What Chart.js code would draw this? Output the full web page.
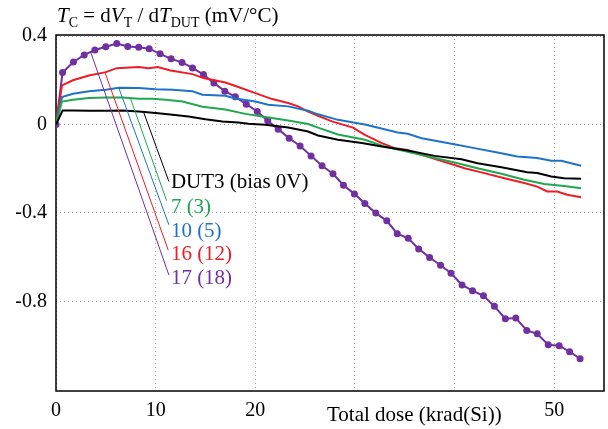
<!DOCTYPE html>
<html>
<head>
<meta charset="utf-8">
<script src="https://cdn.jsdelivr.net/npm/chart.js@4.4.1/dist/chart.umd.min.js"></script>
<style>
  html, body { margin: 0; padding: 0; background: #fff; }
  #wrap { width: 608px; height: 429px; }
</style>
</head>
<body>
<div id="wrap"><canvas id="chart"></canvas></div>
<script>
// total dose (krad(Si)) and Tc (mV/degC)
var doseDUT3 = [0, 0.66, 1.7, 3.3, 5, 6.7, 8.3, 10, 11.7, 13.3, 15, 16.7, 18.3, 19.3, 21, 23.3, 25.3, 26.3, 28.3, 30.7, 32.7, 35.3, 38, 40.7, 42.3, 44.7, 47.3, 48.3, 49.7, 51, 52.7];
var tcDUT3   = [0, 0.063, 0.063, 0.062, 0.062, 0.063, 0.059, 0.052, 0.044, 0.036, 0.024, 0.014, 0.009, 0.003, -0.001, -0.014, -0.032, -0.05, -0.069, -0.084, -0.1, -0.118, -0.142, -0.157, -0.175, -0.193, -0.216, -0.22, -0.235, -0.243, -0.246];

var dose7 = [0, 0.6, 1.7, 3.3, 5, 6.7, 8.3, 9.7, 11, 12.7, 14.7, 17, 19, 20.7, 23.3, 25.3, 26.3, 28.3, 31, 33, 34.3, 37.7, 40, 42.3, 44.7, 47, 49, 51, 52.7];
var tc7   = [0, 0.104, 0.112, 0.12, 0.122, 0.122, 0.116, 0.116, 0.112, 0.104, 0.08, 0.068, 0.048, 0.036, 0.018, 0.002, -0.014, -0.045, -0.069, -0.1, -0.113, -0.148, -0.172, -0.198, -0.223, -0.25, -0.269, -0.278, -0.288];

var dose10 = [0, 0.6, 1.7, 3.3, 5, 6.3, 8.3, 10, 11.7, 13.7, 14.7, 17, 18, 20, 21.3, 23.3, 25.3, 26.3, 28.3, 31, 34.3, 35.3, 36.7, 39.7, 42, 44.3, 46.3, 48.3, 49.7, 50.7, 52.7];
var tc10   = [0, 0.124, 0.139, 0.15, 0.157, 0.166, 0.165, 0.16, 0.157, 0.15, 0.135, 0.13, 0.118, 0.104, 0.089, 0.082, 0.062, 0.046, 0.021, 0, -0.036, -0.042, -0.062, -0.087, -0.107, -0.127, -0.145, -0.152, -0.164, -0.164, -0.187];

var dose16 = [0, 0.6, 1.7, 3.3, 5, 6.1, 8.3, 9.3, 10.2, 11.5, 13.7, 14.8, 17, 18.3, 20, 21.7, 23.3, 24.3, 25.3, 26.3, 27.7, 29.8, 31, 32.7, 34, 35.3, 36.7, 38.3, 40, 41, 43, 45, 47, 48.3, 49.3, 50.3, 51.3, 52.7];
var tc16   = [0, 0.177, 0.2, 0.222, 0.237, 0.255, 0.26, 0.255, 0.26, 0.244, 0.228, 0.21, 0.19, 0.17, 0.142, 0.115, 0.097, 0.082, 0.058, 0.039, 0.014, -0.014, -0.047, -0.084, -0.107, -0.115, -0.137, -0.16, -0.183, -0.198, -0.22, -0.243, -0.265, -0.281, -0.303, -0.303, -0.318, -0.329];

var dose17 = [0, 0.66, 1.75, 2.83, 3.9, 5.0, 6.1, 7.2, 8.3, 9.35, 10.45, 11.55, 12.65, 13.7, 14.8, 15.85, 16.95, 18.0, 19.1, 20.2, 21.25, 22.3, 23.4, 24.5, 25.6, 26.7, 27.8, 28.85, 29.95, 31.0, 32.1, 33.2, 34.25, 35.35, 36.4, 37.5, 38.6, 39.65, 40.75, 41.8, 42.9, 44.0, 45.1, 46.15, 47.25, 48.3, 49.4, 50.5, 51.55, 52.6];
var tc17   = [0, 0.235, 0.283, 0.315, 0.337, 0.352, 0.366, 0.353, 0.35, 0.343, 0.32, 0.297, 0.281, 0.256, 0.226, 0.188, 0.151, 0.125, 0.092, 0.059, 0.017, -0.021, -0.062, -0.097, -0.142, -0.187, -0.223, -0.275, -0.314, -0.357, -0.401, -0.436, -0.494, -0.515, -0.563, -0.602, -0.637, -0.673, -0.726, -0.752, -0.775, -0.823, -0.879, -0.876, -0.932, -0.947, -0.997, -1.001, -1.028, -1.06];

var xTicks = [0, 10, 20, 30, 40, 50];
var xTickLabels = ['0', '10', '20', '', '', '50'];
var yTicks = [0.4, 0, -0.4, -0.8];
var yTickLabels = ['0.4', '0', '-0.4', '-0.8'];

// callout labels: text, colour, where the leader leaves the curve and where it ends
var seriesNames  = ['DUT3 (bias 0V)', '7 (3)', '10 (5)', '16 (12)', '17 (18)'];
var seriesColors = ['#000000', '#1fa84f', '#1e73c8', '#ee1c25', '#7030a0'];
var leaderFrom = [[8.8, 0.055], [7.5, 0.115], [6.33, 0.162], [4.9, 0.237], [3.5, 0.325]];
var leaderTo   = [[11.33, -0.258], [11.1, -0.345], [11.33, -0.454], [11.26, -0.568], [11.33, -0.681]];
var labelAt    = [[11.53, -0.264], [11.53, -0.377], [11.53, -0.486], [11.53, -0.586], [11.53, -0.695]];

var serif = "'Liberation Serif', 'Times New Roman', serif";

function pts(xs, ys) {
   return xs.map(function(x, i) { return {x: x, y: ys[i]}; });
}

function curve(xs, ys, color) {
   return {
      data: pts(xs, ys),
      showLine: true,
      borderColor: color,
      backgroundColor: color,
      borderWidth: 2,
      pointRadius: 0,
      tension: 0
   };
}

var datasets = [];
for (var i = 0; i < 5; i++) {
   datasets.push({
      data: [{x: leaderFrom[i][0], y: leaderFrom[i][1]}, {x: leaderTo[i][0], y: leaderTo[i][1]}],
      showLine: true,
      borderColor: seriesColors[i],
      borderWidth: 1,
      pointRadius: 0
   });
}
datasets.push(curve(doseDUT3, tcDUT3, seriesColors[0]));
datasets.push(curve(dose7, tc7, seriesColors[1]));
datasets.push(curve(dose10, tc10, seriesColors[2]));
datasets.push(curve(dose16, tc16, seriesColors[3]));
var purple = curve(dose17, tc17, seriesColors[4]);
purple.pointRadius = 3.5;
purple.pointBorderWidth = 0;
datasets.push(purple);

function drawRich(ctx, parts, x, y) {
   parts.forEach(function(p) {
      var size = p.sub ? 14 : 21;
      ctx.font = (p.italic ? 'italic ' : '') + size + 'px ' + serif;
      ctx.fillText(p.t, x, p.sub ? y + 5 : y);
      x += ctx.measureText(p.t).width;
   });
}

var textPlugin = {
   id: 'texts',
   beforeDatasetsDraw: function(chart) {
      var ctx = chart.ctx, a = chart.chartArea;
      ctx.save();
      ctx.strokeStyle = '#000';
      ctx.lineWidth = 1.5;
      ctx.strokeRect(a.left, a.top, a.right - a.left, a.bottom - a.top);
      ctx.restore();
   },
   afterDraw: function(chart) {
      var ctx = chart.ctx;
      var xs = chart.scales.x, ys = chart.scales.y;
      ctx.save();
      ctx.fillStyle = '#000';
      ctx.textBaseline = 'alphabetic';
      ctx.textAlign = 'left';
      drawRich(ctx, [
         {t: 'T', italic: true}, {t: 'C', sub: true}, {t: ' = d'},
         {t: 'V', italic: true}, {t: 'T', sub: true}, {t: ' / d'},
         {t: 'T', italic: true}, {t: 'DUT', sub: true}, {t: ' (mV/\u00B0C)'}
      ], 57, 22);

      ctx.font = '21px ' + serif;
      ctx.textBaseline = 'middle';
      ctx.fillText('Total dose (krad(Si))', xs.getPixelForValue(27.2), 415);

      for (var i = 0; i < seriesNames.length; i++) {
         ctx.fillStyle = seriesColors[i];
         ctx.fillText(seriesNames[i], xs.getPixelForValue(labelAt[i][0]), ys.getPixelForValue(labelAt[i][1]));
      }
      ctx.restore();
   }
};

new Chart(document.getElementById('chart'), {
   type: 'scatter',
   data: {datasets: datasets},
   options: {
      responsive: true,
      maintainAspectRatio: false,
      animation: false,
      layout: {padding: {left: 0, top: 35, right: 2, bottom: 0}},
      plugins: {legend: {display: false}, tooltip: {enabled: false}},
      scales: {
         x: {
            type: 'linear',
            min: 0,
            max: 55,
            afterBuildTicks: function(s) { s.ticks = xTicks.map(function(v) { return {value: v}; }); },
            afterFit: function(s) { s.height = 38; },
            ticks: {
               autoSkip: false,
               maxRotation: 0,
               padding: 8,
               color: '#000',
               font: {family: serif, size: 20},
               callback: function(v, i) { return xTickLabels[i]; }
            },
            grid: {color: '#aaaaaa', lineWidth: 1, drawTicks: false},
            border: {display: false, dash: [1, 3]}
         },
         y: {
            type: 'linear',
            min: -1.206,
            max: 0.405,
            afterBuildTicks: function(s) { s.ticks = yTicks.map(function(v) { return {value: v}; }); },
            afterFit: function(s) { s.width = 56; },
            ticks: {
               padding: 9,
               color: '#000',
               font: {family: serif, size: 20},
               callback: function(v, i) { return yTickLabels[i]; }
            },
            grid: {color: '#aaaaaa', lineWidth: 1, drawTicks: false},
            border: {display: false, dash: [1, 3]}
         }
      }
   },
   plugins: [textPlugin]
});
</script>
</body>
</html>
